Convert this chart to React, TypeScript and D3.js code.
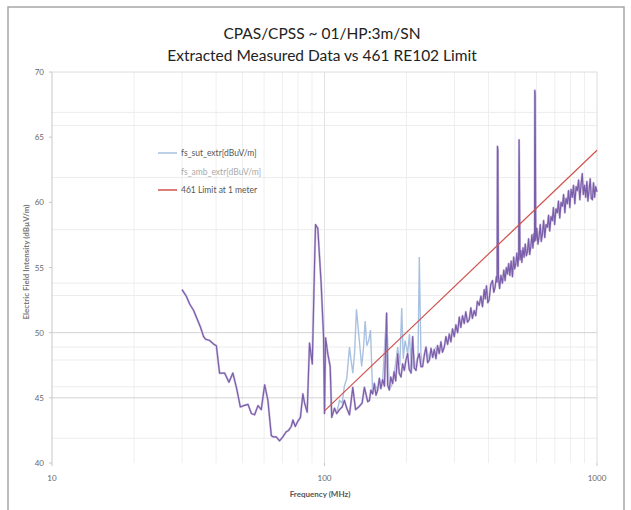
import React from 'react';
import * as d3 from 'd3';

// measured ambient trace, 30 - 100 MHz  [MHz, dBuV/m]
const ambBelow100: [number, number][] = [
  [30.0, 53.3], [31.1, 52.8], [32.0, 52.2], [33.1, 51.7], [34.0, 51.1], [35.1, 50.4], [36.0, 49.7],
  [36.6, 49.5], [37.9, 49.4], [39.3, 49.1], [40.1, 49.0], [41.2, 46.9], [43.0, 46.9], [44.6, 46.2],
  [46.1, 46.9], [47.5, 45.8], [49.1, 44.3], [50.5, 44.4], [52.4, 44.5], [53.9, 43.8], [55.4, 43.7],
  [57.0, 44.4], [58.6, 44.1], [60.3, 46.0], [62.0, 44.8], [63.8, 42.1], [65.0, 42.0], [66.5, 42.0],
  [68.4, 41.7], [70.3, 42.0], [72.4, 42.4], [73.8, 42.5], [75.5, 42.8], [76.6, 43.3], [78.1, 42.8],
  [79.8, 43.2], [81.6, 43.5], [83.3, 45.3], [84.5, 44.6], [86.4, 43.9], [88.1, 49.2], [90.2, 47.6],
  [91.9, 55.1], [92.7, 58.3], [94.5, 58.0], [97.2, 53.8], [99.2, 49.7], [100.0, 43.8],
];

// measured ambient trace, 100 - 1000 MHz
const ambAbove100: [number, number][] = [
  [100.9, 49.6], [102.8, 48.4], [104.9, 47.4], [106.3, 43.5], [108.8, 44.2], [110.9, 43.8], [113.5, 44.1],
  [116.1, 44.3], [118.3, 44.8], [120.7, 44.2], [123.5, 43.7], [127.0, 45.8], [130.0, 44.1], [133.6, 44.3],
  [137.4, 44.6], [140.1, 45.8], [144.1, 44.7], [146.2, 44.8], [148.0, 45.6], [150.2, 45.3], [152.4, 46.1],
  [154.5, 45.2], [156.7, 45.6], [159.0, 46.5], [161.0, 45.7], [163.5, 46.4], [166.0, 45.9], [169.0, 51.5],
  [170.5, 46.0], [172.9, 45.6], [175.0, 46.6], [177.8, 46.1], [180.0, 47.0], [182.5, 46.3], [185.6, 48.4],
  [188.0, 46.9], [190.9, 46.6], [193.5, 47.6], [196.3, 47.1], [199.0, 47.9], [201.9, 48.4], [204.5, 47.2],
  [207.8, 46.9], [210.6, 49.7], [213.5, 47.3], [216.7, 47.1], [219.5, 48.0], [222.8, 48.4], [225.9, 47.4],
  [229.0, 47.4], [232.5, 48.3], [235.8, 48.9], [239.0, 47.7], [242.5, 47.9], [246.0, 48.8], [249.5, 48.1],
  [252.9, 48.7], [256.5, 48.0], [260.0, 49.0], [263.7, 48.4], [267.5, 49.3], [271.0, 48.5], [275.2, 48.9],
  [279.0, 49.7], [283.0, 49.1], [287.2, 49.9], [291.0, 49.3], [295.0, 50.3], [299.4, 49.7], [303.5, 50.6],
  [308.0, 50.0], [312.3, 51.2], [316.5, 50.4], [321.0, 51.3], [325.7, 50.7], [330.0, 51.6], [334.8, 50.8],
  [339.7, 51.0], [344.5, 51.9], [349.0, 51.1], [354.0, 51.7], [359.0, 51.3], [364.0, 52.4], [369.6, 52.1],
  [375.0, 52.8], [380.0, 52.0], [385.5, 53.3], [389.0, 52.6], [393.0, 53.6], [397.5, 52.3], [401.8, 52.5],
  [407.5, 53.7], [413.6, 54.0], [418.0, 53.1], [422.8, 53.5], [427.5, 54.3], [430.0, 53.9], [431.3, 64.3],
  [432.8, 64.0], [434.8, 54.3], [439.0, 53.4], [444.0, 54.4], [449.7, 53.8], [455.0, 54.8], [460.0, 54.0],
  [465.0, 55.0], [469.3, 54.5], [474.0, 55.3], [479.0, 54.4], [484.0, 55.5], [489.5, 54.3], [494.5, 55.8],
  [499.0, 54.9], [503.5, 55.3], [508.0, 56.1], [512.5, 55.1], [516.0, 56.0], [517.6, 64.8], [519.0, 62.5],
  [521.7, 55.6], [525.4, 56.3], [530.0, 55.4], [535.0, 56.5], [540.3, 55.8], [545.5, 56.8], [550.5, 55.9],
  [555.6, 56.2], [561.0, 57.2], [566.0, 56.0], [571.5, 56.6], [577.0, 57.5], [582.0, 56.5], [587.0, 57.6],
  [590.0, 57.0], [591.3, 68.6], [592.8, 68.3], [596.3, 57.1], [601.5, 58.0], [607.0, 56.8], [613.2, 57.4],
  [619.0, 58.3], [624.5, 57.0], [630.5, 57.6], [637.0, 58.6], [643.0, 57.3], [650.0, 58.3], [657.7, 58.1],
  [664.0, 59.0], [670.5, 57.8], [678.0, 58.9], [685.5, 58.6], [692.0, 59.6], [699.0, 58.3], [707.0, 59.5],
  [715.4, 59.2], [722.0, 60.1], [730.0, 58.8], [738.0, 60.0], [746.4, 59.7], [754.0, 60.6], [762.0, 59.2],
  [770.0, 60.3], [778.5, 59.9], [786.0, 60.9], [795.0, 59.6], [803.0, 61.0], [812.0, 60.4], [820.0, 61.3],
  [829.0, 59.9], [838.0, 61.2], [847.0, 60.9], [856.0, 61.7], [865.0, 60.2], [874.0, 61.4], [883.0, 62.2],
  [891.0, 60.6], [900.0, 61.3], [909.0, 60.4], [918.0, 61.6], [926.0, 60.1], [935.0, 60.9], [944.0, 61.8],
  [953.0, 60.3], [962.0, 60.2], [971.0, 61.5], [980.0, 60.4], [989.0, 61.2], [1000.0, 60.8],
];

// SUT trace where it shows above the ambient one (100 - 260 MHz)
const sutTrace: [number, number][] = [
  [100.0, 43.8], [100.9, 49.6], [102.8, 48.4], [104.9, 47.4], [106.3, 43.5], [108.8, 44.2], [110.9, 43.8],
  [113.5, 44.8], [116.1, 44.6], [118.3, 45.9], [120.7, 46.5], [123.5, 48.9], [125.0, 48.0], [127.0, 46.9],
  [129.0, 48.5], [131.0, 51.8], [134.2, 49.4], [136.9, 47.4], [139.0, 48.8], [141.0, 50.9], [143.0, 49.0],
  [145.3, 49.4], [147.5, 50.2], [149.0, 47.5], [150.2, 45.3], [152.4, 46.1], [156.7, 45.6], [163.5, 46.4],
  [169.0, 51.5], [172.9, 45.6], [177.8, 46.1], [182.0, 47.5], [185.6, 48.9], [189.0, 47.5], [192.0, 51.9],
  [194.5, 48.0], [197.5, 49.4], [201.9, 48.4], [205.0, 49.9], [208.5, 47.0], [212.0, 48.4], [216.7, 47.1],
  [220.5, 48.5], [222.8, 55.8], [225.9, 48.4], [229.0, 47.4], [235.8, 48.9], [242.5, 47.9], [252.9, 48.7],
  [260.0, 49.0],
];

const limitLine: [number, number][] = [[100, 44], [1000, 64]];

const yTicks = [40, 45, 50, 55, 60, 65, 70];
const xTicks = [10, 100, 1000];
const hGridLevels = [66.9, 65.9, 61.9, 57.9, 53.8, 52.85, 48.9, 47.9, 45.85, 41.9];
const hGridStrong = [50, 45];
const vGridFreqs = [20, 30, 40, 50, 60, 70, 80, 90, 100, 200, 300, 400, 500, 600, 700, 800, 900];

const legendItems = [
  { label: 'fs_sut_extr[dBuV/m]', color: '#a9c1e0', text: '#555' },
  { label: 'fs_amb_extr[dBuV/m]', color: 'none', text: '#aaa' },
  { label: '461 Limit at 1 meter', color: '#d0534e', text: '#555' },
];

const W = 631;
const H = 510;
const font = 'Lato, "Open Sans", sans-serif';

export default function App() {
  const x = d3.scaleLog().domain([10, 1000]).range([52, 597]);
  const y = d3.scaleLinear().domain([40, 70]).range([463, 72]);
  const line = d3.line<[number, number]>().x(d => x(d[0])).y(d => y(d[1]));
  const ambient = [...ambBelow100, ...ambAbove100];

  return (
    <svg width={W} height={H} style={{ position: 'absolute', left: 0, top: 0, background: '#fff' }}>
      <rect x={0} y={0} width={W} height={H} fill="#fff" />
      <rect x={8} y={7} width={616} height={510} fill="#fff" stroke="#a6a6a6" strokeWidth={1.5} />

      <text x={322} y={39} textAnchor="middle" fontFamily={font} fontSize={15.5} fill="#222">CPAS/CPSS ~ 01/HP:3m/SN</text>
      <text x={322} y={61} textAnchor="middle" fontFamily={font} fontSize={15.5} fill="#222">Extracted Measured Data vs 461 RE102 Limit</text>

      {/* grid */}
      {vGridFreqs.map(f => (
        <line key={'v' + f} x1={x(f)} x2={x(f)} y1={y(70)} y2={y(40)} stroke={f === 100 ? '#e2e2e2' : '#efefef'} strokeWidth={1} />
      ))}
      {hGridLevels.map(v => (
        <line key={'h' + v} x1={x(10)} x2={x(1000)} y1={y(v)} y2={y(v)} stroke="#ececec" strokeWidth={1} />
      ))}
      {hGridStrong.map(v => (
        <line key={'hs' + v} x1={x(10)} x2={x(1000)} y1={y(v)} y2={y(v)} stroke="#d2d2d2" strokeWidth={1} />
      ))}
      <line x1={x(10)} x2={x(1000)} y1={y(70)} y2={y(70)} stroke="#dcdcdc" />
      <line x1={x(1000)} x2={x(1000)} y1={y(70)} y2={y(40)} stroke="#dcdcdc" />
      <line x1={x(10)} x2={x(10)} y1={y(70)} y2={y(40)} stroke="#c8c8c8" />

      {/* y ticks */}
      {yTicks.map(v => (
        <g key={'yt' + v}>
          <line x1={x(10) - 3} x2={x(10)} y1={y(v)} y2={y(v)} stroke="#c8c8c8" />
          <text x={44} y={y(v) + 3} textAnchor="end" fontFamily={font} fontSize={8} fill="#666">{v}</text>
        </g>
      ))}
      {xTicks.map(v => (
        <g key={'xt' + v}>
          <line x1={x(v)} x2={x(v)} y1={y(40)} y2={y(40) + 3} stroke="#c8c8c8" />
          <text x={x(v)} y={481} textAnchor="middle" fontFamily={font} fontSize={8} fill="#666">{v}</text>
        </g>
      ))}

      <text x={320} y={497} textAnchor="middle" fontFamily={font} fontSize={8} fontWeight="bold" fill="#555">Frequency (MHz)</text>
      <text transform="translate(29,262) rotate(-90)" textAnchor="middle" fontFamily={font} fontSize={8} fontWeight="bold" fill="#777">Electric Field Intensity (dBµV/m)</text>

      {/* series */}
      <path d={line(sutTrace) ?? ''} fill="none" stroke="#a9c1e0" strokeWidth={1.4} />
      <path d={line(ambient) ?? ''} fill="none" stroke="#cfc2e2" strokeWidth={2.2} strokeLinejoin="round" />
      <path d={line(ambient) ?? ''} fill="none" stroke="#7a5ea9" strokeWidth={1.2} strokeLinejoin="round" />
      <path d={line(limitLine) ?? ''} fill="none" stroke="#d0534e" strokeWidth={1.2} />

      {/* legend */}
      {legendItems.map((it, i) => (
        <g key={it.label} transform={`translate(158,${153 + i * 18.5})`}>
          {it.color !== 'none' && <line x1={0} x2={19} y1={0} y2={0} stroke={it.color} strokeWidth={1.5} />}
          <text x={23} y={3} fontFamily={font} fontSize={8.5} fill={it.text}>{it.label}</text>
        </g>
      ))}
    </svg>
  );
}
